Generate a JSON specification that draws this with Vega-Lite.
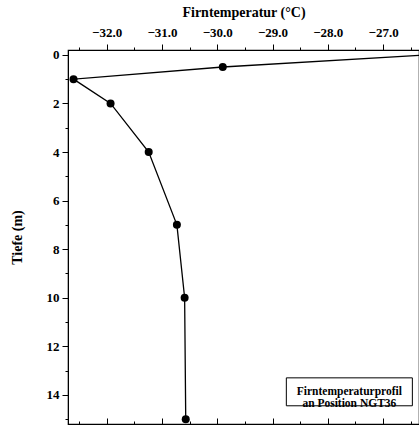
{
  "$schema": "https://vega.github.io/schema/vega-lite/v6.json",
  "autosize": {"type": "none"},
  "padding": {"left": 68, "top": 50, "right": 0, "bottom": 3},
  "width": 351,
  "height": 374,
  "background": "white",
  "config": {
    "font": "Liberation Serif",
    "view": {"stroke": "black", "strokeWidth": 1.2},
    "axis": {
      "labelFont": "Liberation Serif",
      "titleFont": "Liberation Serif",
      "labelFontWeight": "bold",
      "titleFontWeight": "bold",
      "labelFontSize": 13,
      "titleFontSize": 14,
      "labelColor": "black",
      "titleColor": "black",
      "domainColor": "black",
      "tickColor": "black",
      "grid": false
    }
  },
  "data": {
    "values": [
      {"temp": -26.2, "depth": 0},
      {"temp": -29.9, "depth": 0.5},
      {"temp": -32.6, "depth": 1},
      {"temp": -31.93, "depth": 2},
      {"temp": -31.24, "depth": 4},
      {"temp": -30.73, "depth": 7},
      {"temp": -30.59, "depth": 10},
      {"temp": -30.57, "depth": 15}
    ]
  },
  "resolve": {"axis": {"x": "independent", "y": "independent"}},
  "layer": [
    {
      "mark": {"type": "line", "color": "black", "strokeWidth": 1.3, "clip": true},
      "encoding": {
        "x": {
          "field": "temp", "type": "quantitative",
          "scale": {"domain": [-32.7, -26.35], "nice": false, "zero": false},
          "axis": {
            "orient": "top",
            "title": "Firntemperatur (°C)",
            "titlePadding": 7,
            "values": [-32.5, -32, -31.5, -31, -30.5, -30, -29.5, -29, -28.5, -28, -27.5, -27, -26.5],
            "labelExpr": "datum.value % 1 === 0 ? format(datum.value, '.1f') : ''",
            "tickSize": {"condition": {"test": "datum.value % 1 === 0", "value": 6}, "value": 3},
            "labelPadding": 5,
            "labelFlush": false
          }
        },
        "y": {
          "field": "depth", "type": "quantitative",
          "scale": {"domain": [-0.2, 15.2], "nice": false, "zero": false, "reverse": true},
          "axis": {
            "orient": "left",
            "title": "Tiefe (m)",
            "titlePadding": 22,
            "values": [0, 1, 2, 3, 4, 5, 6, 7, 8, 9, 10, 11, 12, 13, 14, 15],
            "labelExpr": "datum.value % 2 === 0 ? datum.value : ''",
            "tickSize": {"condition": {"test": "datum.value % 2 === 0", "value": 6}, "value": 3},
            "labelPadding": 3,
            "labelFlush": false
          }
        },
        "order": {"field": "depth", "type": "quantitative"}
      }
    },
    {
      "mark": {"type": "point", "filled": true, "color": "black", "size": 64, "opacity": 1},
      "encoding": {
        "x": {
          "field": "temp", "type": "quantitative",
          "axis": {
            "orient": "bottom",
            "title": null,
            "labels": false,
            "values": [-32.5, -32, -31.5, -31, -30.5, -30, -29.5, -29, -28.5, -28, -27.5, -27, -26.5],
            "tickSize": {"condition": {"test": "datum.value % 1 === 0", "value": -6}, "value": -3}
          }
        },
        "y": {
          "field": "depth", "type": "quantitative",
          "axis": null
        }
      }
    },
    {
      "data": {"values": [{"x1": -28.75, "x2": -26.47, "y1": 13.3, "y2": 14.45}]},
      "mark": {"type": "rect", "fill": "white", "stroke": "black", "strokeWidth": 1},
      "encoding": {
        "x": {"field": "x1", "type": "quantitative", "axis": null},
        "x2": {"field": "x2"},
        "y": {"field": "y1", "type": "quantitative", "axis": null},
        "y2": {"field": "y2"}
      }
    },
    {
      "data": {"values": [{"temp": -27.61, "depth": 13.87, "label": ["Firntemperaturprofil", "an Position NGT36"]}]},
      "mark": {"type": "text", "font": "Liberation Serif", "fontWeight": "bold", "fontSize": 11.5, "align": "center", "baseline": "middle", "lineHeight": 12, "color": "black"},
      "encoding": {
        "x": {"field": "temp", "type": "quantitative", "axis": null},
        "y": {"field": "depth", "type": "quantitative", "axis": null},
        "text": {"field": "label"}
      }
    }
  ]
}
